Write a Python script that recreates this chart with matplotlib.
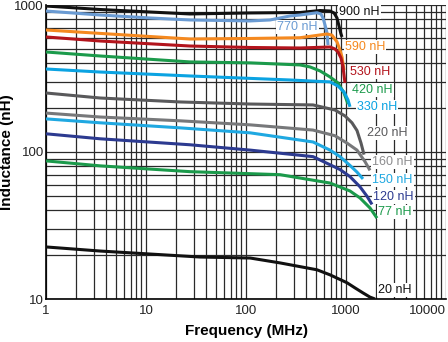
import matplotlib
matplotlib.use("Agg")
import matplotlib.pyplot as plt
from matplotlib.ticker import LogLocator, NullFormatter, FixedLocator

plt.rcParams["font.family"] = ["Liberation Sans", "DejaVu Sans"]

# Inductance (nH) vs frequency (MHz)
f_900 = [1, 3.47, 11, 27.5, 110, 347, 550, 692, 760, 813, 851, 891, 912]
L_900 = [984, 932, 896, 869, 883, 889, 917, 910, 882, 816, 720, 635, 606]

f_770 = [1, 3.47, 11, 27.5, 110, 174, 275, 347, 513, 562, 589, 617, 646, 661]
L_770 = [910, 855, 816, 791, 779, 791, 842, 855, 886, 868, 816, 731, 645, 534]

f_590 = [1, 3.47, 27.5, 110, 347, 646, 724, 813, 871, 912, 955]
L_590 = [676, 641, 587, 592, 599, 635, 624, 561, 494, 443, 361]

f_530 = [1, 3.47, 27.5, 110, 347, 692, 776, 832, 891, 933, 977]
L_530 = [606, 569, 526, 514, 510, 518, 502, 479, 436, 379, 295]

f_420 = [1, 3.47, 27.5, 110, 347, 437, 550, 692, 832, 955, 1047]
L_420 = [479, 450, 410, 404, 391, 379, 356, 324, 295, 252, 212]

f_330 = [1, 3.47, 27.5, 275, 550, 692, 832, 955, 1047, 1096]
L_330 = [367, 350, 329, 309, 302, 300, 281, 256, 226, 203]

f_220 = [1, 3.47, 21.9, 110, 468, 776, 977, 1148, 1288, 1413, 1514]
L_220 = [252, 233, 219, 212, 209, 193, 176, 158, 140, 115, 96]

f_160 = [1, 3.47, 21.9, 110, 468, 776, 1023, 1288, 1549, 1738]
L_160 = [184, 173, 163, 153, 141, 129, 115, 103, 86, 75]

f_150 = [1, 3.47, 21.9, 110, 468, 692, 871, 1096, 1288, 1479]
L_150 = [168, 158, 146, 135, 117, 103, 93, 81, 73, 65.6]

f_120 = [1, 3.47, 27.5, 110, 468, 871, 1096, 1380, 1622, 1820]
L_120 = [133, 123, 112, 103, 93, 76, 68, 58, 50, 44]

f_77 = [1, 3.47, 27.5, 219, 692, 1096, 1380, 1738, 2042]
L_77 = [87, 80.5, 73.5, 70.1, 61.5, 54.3, 48.7, 41.6, 35.5]

f_20 = [1, 3.47, 34.7, 110, 219, 513, 692, 1023, 1230, 1479, 1738, 1950]
L_20 = [22.6, 21.2, 19.3, 19.0, 17.6, 15.8, 14.6, 12.9, 11.9, 11.0, 10.3, 10.0]

labels = ["900 nH", "770 nH", "590 nH", "530 nH", "420 nH", "330 nH",
          "220 nH", "160 nH", "150 nH", "120 nH", "77 nH", "20 nH"]

curves = [
    (f_900, L_900, "#111111"),
    (f_770, L_770, "#6a9bd3"),
    (f_590, L_590, "#f5891f"),
    (f_530, L_530, "#b3141c"),
    (f_420, L_420, "#1b9a4b"),
    (f_330, L_330, "#0ba3e2"),
    (f_220, L_220, "#59595b"),
    (f_160, L_160, "#77787a"),
    (f_150, L_150, "#1fa8e1"),
    (f_120, L_120, "#2c3a90"),
    (f_77, L_77, "#1b9a4b"),
    (f_20, L_20, "#111111"),
]
label_colors = ["#111111", "#6a9bd3", "#f5891f", "#b3141c", "#1b9a4b", "#0ba3e2",
                "#59595b", "#8c8c8e", "#1fa8e1", "#2c3a90", "#1b9a4b", "#111111"]
# label anchors (left edge, vertical centre) in data units
label_pos = [(851, 896), (204, 708), (977, 518), (1096, 350), (1148, 264), (1288, 202),
             (1622, 134.6), (1820, 85.5), (1820, 64.6), (1862, 49.4), (2089, 39.1), (2089, 11.5)]

fig = plt.figure(figsize=(4.48, 3.42), dpi=100)
ax = fig.add_axes([46 / 448, 1 - 299 / 342, 400 / 448, 294 / 342])
ax.set_xscale("log")
ax.set_yscale("log")
ax.set_xlim(1, 10000)
ax.set_ylim(10, 1000)

ax.set_axisbelow(True)
ax.xaxis.set_minor_locator(LogLocator(base=10, subs=range(2, 10)))
ax.yaxis.set_minor_locator(LogLocator(base=10, subs=range(2, 10)))
ax.xaxis.set_minor_formatter(NullFormatter())
ax.yaxis.set_minor_formatter(NullFormatter())
ax.xaxis.set_major_locator(FixedLocator([1, 10, 100, 1000, 10000]))
ax.yaxis.set_major_locator(FixedLocator([10, 100, 1000]))
xt = ax.set_xticklabels(["1", "10", "100", "1000", "10000"])
xt[-1].set_horizontalalignment("right")
ax.set_yticklabels(["10", "100", "1000"])
ax.grid(True, which="both", color="#2a2a2a", linewidth=0.9)
ax.tick_params(which="both", length=0, labelsize=9.5, colors="#222222")
ax.tick_params(axis="x", pad=4)
ax.tick_params(axis="y", pad=1.5)

for s in ["top", "right"]:
    ax.spines[s].set_visible(False)
for s in ["left", "bottom"]:
    ax.spines[s].set_linewidth(1.2)

for f, L, c in curves:
    ax.plot(f, L, color=c, linewidth=2.2, zorder=3, solid_capstyle="butt",
            solid_joinstyle="round")

for txt, (x, y), c in zip(labels, label_pos, label_colors):
    ax.text(x, y, txt, color=c, fontsize=9, ha="left", va="center", zorder=2.5,
            bbox=dict(facecolor="white", edgecolor="none", pad=0.8))

ax.set_xlabel("Frequency (MHz)", fontsize=11, fontweight="bold", labelpad=5)
ax.set_ylabel("Inductance (nH)", fontsize=11, fontweight="bold")
ax.yaxis.set_label_coords(-0.08, 0.5)

fig.savefig("out.png", dpi=100)
